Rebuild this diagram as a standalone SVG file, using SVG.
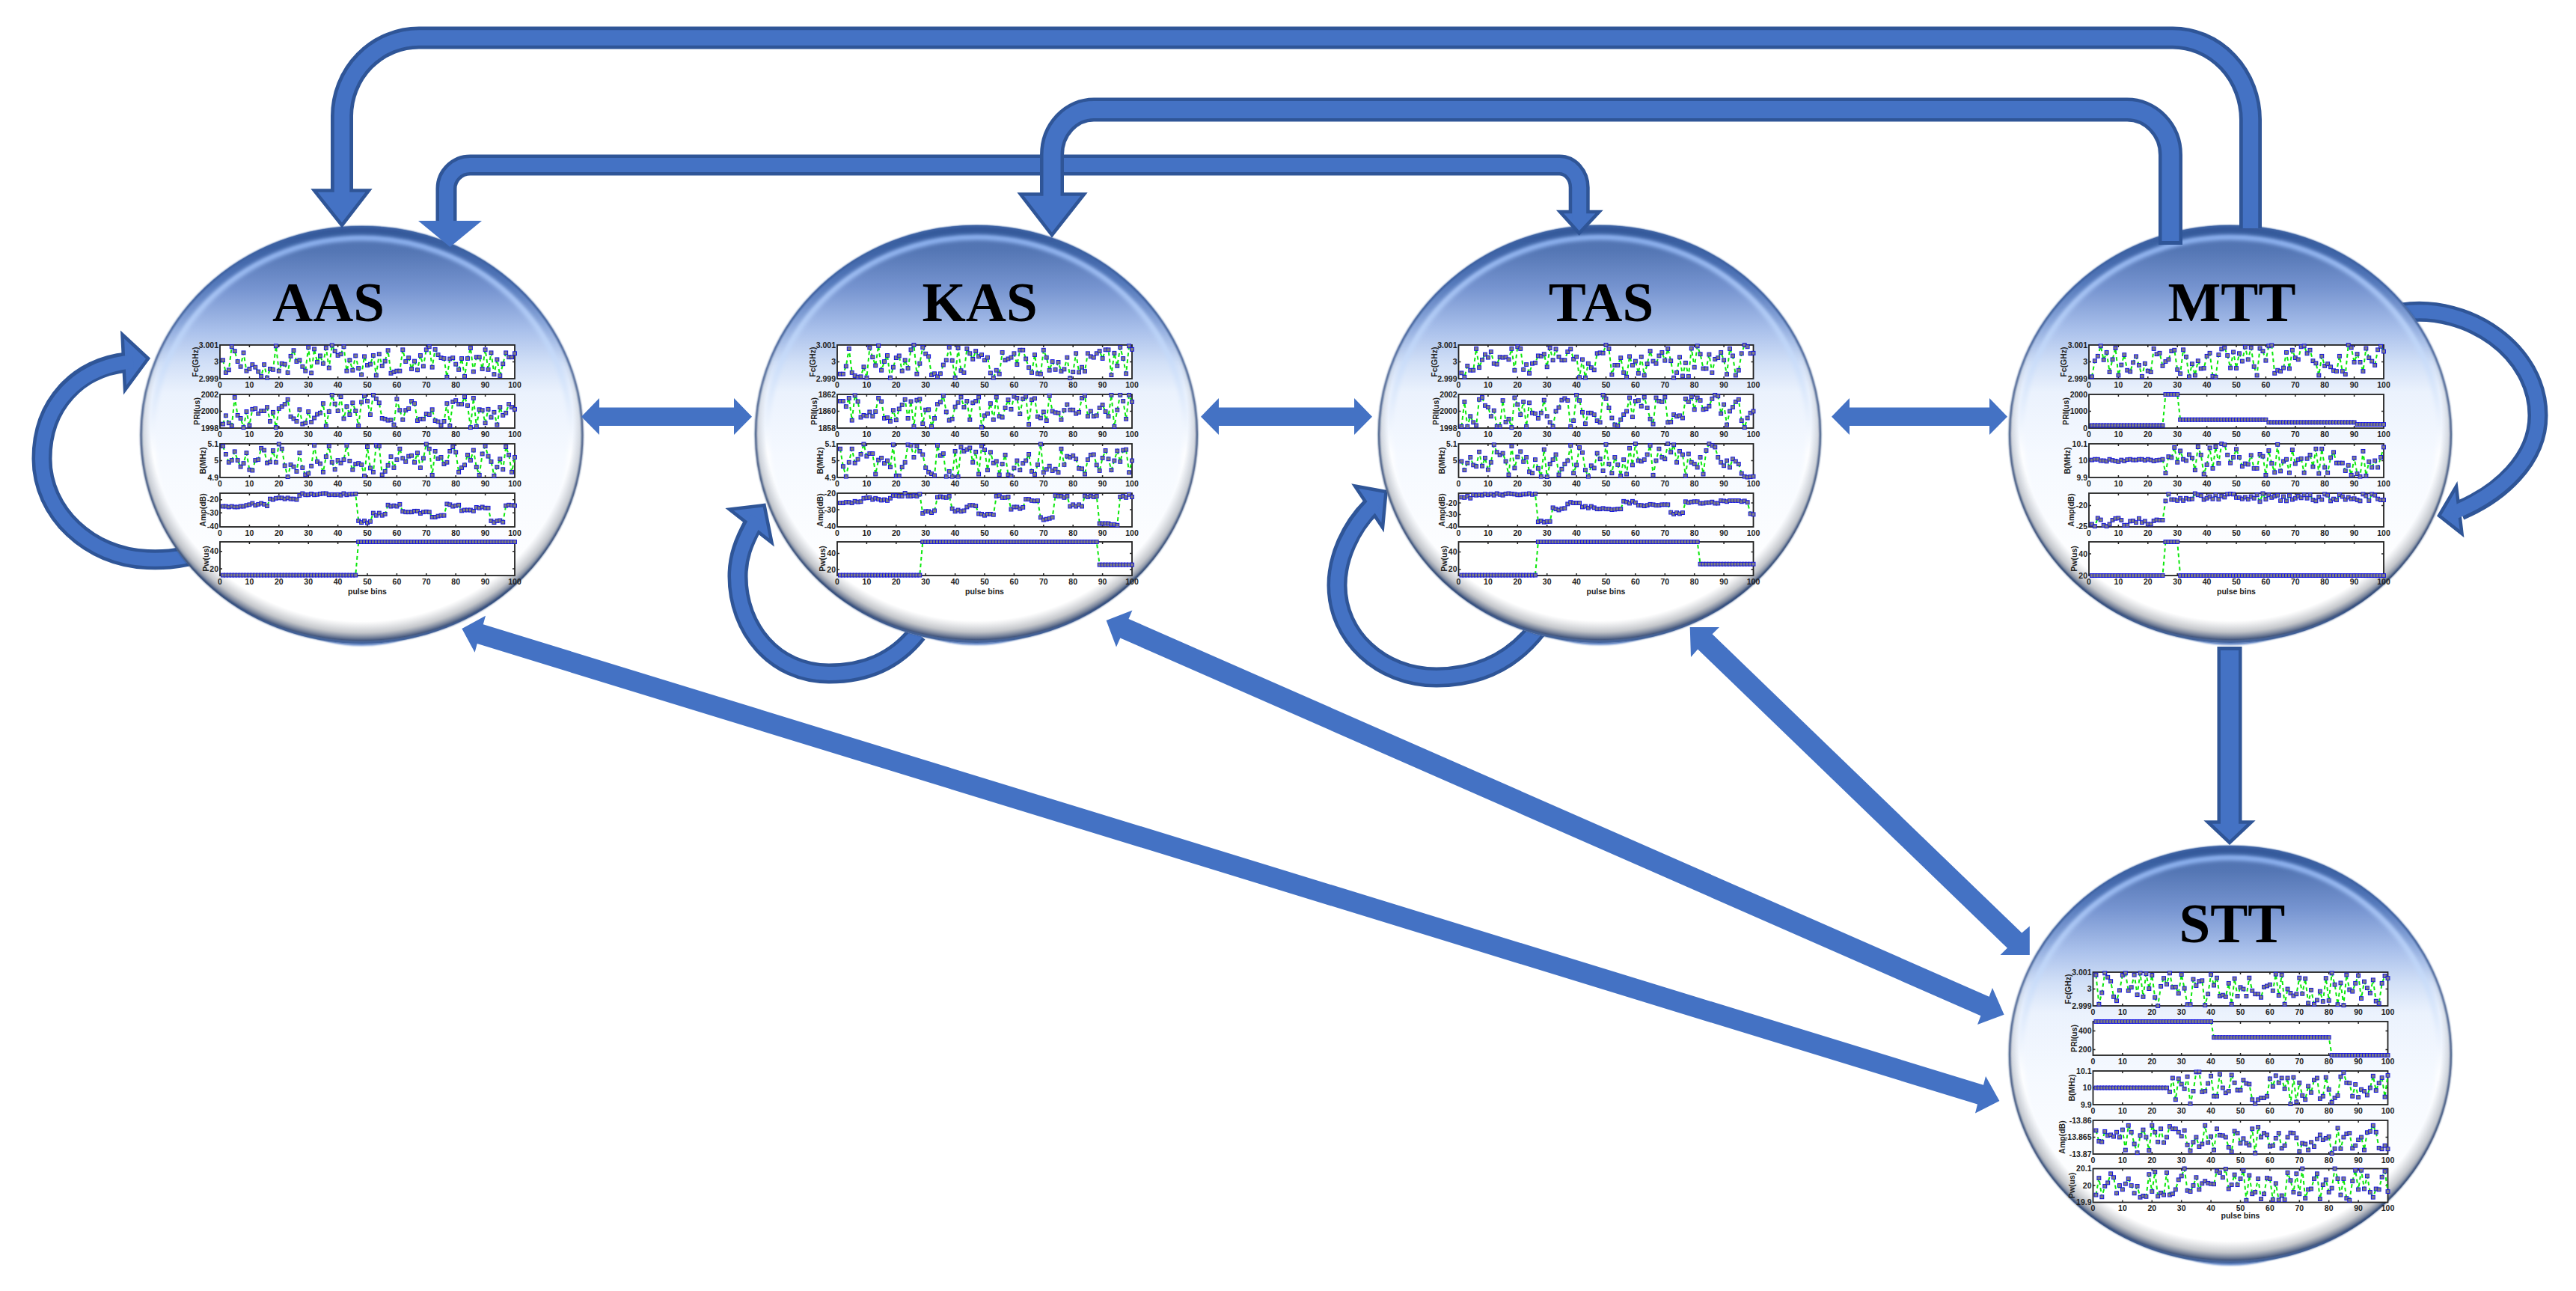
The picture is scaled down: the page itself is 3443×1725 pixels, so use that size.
<svg xmlns="http://www.w3.org/2000/svg" width="3443" height="1725" viewBox="0 0 3443 1725">
<style>
text{font-family:"Liberation Sans",Arial,sans-serif;font-weight:700;font-size:10.5px;fill:#222}
.t{font-family:"Liberation Serif","Times New Roman",serif;font-size:75px;fill:#000;text-anchor:middle}
.x text{text-anchor:middle}
.y{text-anchor:end}
.a{font-size:10.5px;text-anchor:middle}
.p{text-anchor:middle}
.o{fill:none;stroke:#2F5597}
.i{fill:none;stroke:#4472C4}
.h{fill:#4472C4;stroke:#2F5597;stroke-width:4.5}
.f{fill:#4472C4}
.k{fill:none;stroke:#222;stroke-width:1.5}
.s{fill:none;stroke:#0ce80c;stroke-width:2;stroke-dasharray:5 4;vector-effect:non-scaling-stroke;marker-start:url(#m);marker-mid:url(#m);marker-end:url(#m)}
</style>
<defs>
<linearGradient id="gb" x1="0" y1="0" x2="0" y2="1"><stop offset="0" stop-color="#4e70ae"/><stop offset=".06" stop-color="#5476b4"/><stop offset=".15" stop-color="#7694d0"/><stop offset=".25" stop-color="#a9c0eb"/><stop offset=".33" stop-color="#d2e0f7"/><stop offset=".4" stop-color="#ebf2fd"/><stop offset=".55" stop-color="#f5f9ff"/><stop offset=".85" stop-color="#fff"/></linearGradient>
<linearGradient id="gt" x1="0" y1="0" x2="0" y2="1"><stop offset="0" stop-color="#34599a"/><stop offset=".12" stop-color="#4a70b4" stop-opacity=".8"/><stop offset=".33" stop-color="#8aa8dc" stop-opacity="0"/></linearGradient>
<linearGradient id="gh" x1="0" y1="0" x2="0" y2="1"><stop offset="0" stop-color="#8fb4f3"/><stop offset=".3" stop-color="#c5daf9"/><stop offset=".55" stop-color="#fff" stop-opacity=".9"/><stop offset=".7" stop-color="#fff" stop-opacity="0"/></linearGradient>
<linearGradient id="gr" x1="0" y1="0" x2="0" y2="1"><stop offset="0" stop-color="#3c62a4"/><stop offset=".5" stop-color="#243f73"/><stop offset=".85" stop-color="#2c4674"/><stop offset="1" stop-color="#3a5a94"/></linearGradient>
<radialGradient id="gs" cx=".5" cy=".47" r=".53"><stop offset=".9" stop-color="#9a9fa8" stop-opacity="0"/><stop offset=".95" stop-color="#8a8f98" stop-opacity=".5"/><stop offset=".985" stop-color="#3c5078" stop-opacity=".95"/><stop offset="1" stop-color="#5a7db8"/></radialGradient>
<filter id="b1" x="-5%" y="-5%" width="110%" height="110%"><feGaussianBlur stdDeviation="1"/></filter>
<filter id="b2" x="-5%" y="-5%" width="110%" height="110%"><feGaussianBlur stdDeviation="2.5"/></filter>
<g id="orb">
<ellipse cy="3" rx="230" ry="279" fill="#6f92cf" filter="url(#b1)"/>
<ellipse rx="296" ry="279" fill="url(#gb)"/>
<ellipse rx="289" ry="272" fill="none" stroke="url(#gt)" stroke-width="13" filter="url(#b1)"/>
<ellipse rx="280" ry="263" fill="none" stroke="url(#gh)" stroke-width="7" filter="url(#b2)"/>
<ellipse rx="296" ry="279" fill="url(#gs)"/>
<ellipse rx="295" ry="278" fill="none" stroke="url(#gr)" stroke-width="2.2" filter="url(#b1)"/>
</g>
<marker id="m" markerUnits="userSpaceOnUse" markerWidth="1.5" markerHeight="13" refX=".75" refY="6.5" overflow="visible"><rect width="1.5" height="13" fill="#1414e0"/><rect x=".25" y="2.2" width="1" height="8.6" fill="#808080"/></marker>
<g id="fr"><rect width="394" height="45" fill="#fff" stroke="#222" stroke-width="1.8"/><path class="k" d="M39.4 0v3M78.8 0v3M118.2 0v3M157.6 0v3M197 0v3M236.4 0v3M275.8 0v3M315.2 0v3M354.6 0v3M39.4 45v-3M78.8 45v-3M118.2 45v-3M157.6 45v-3M197 45v-3M236.4 45v-3M275.8 45v-3M315.2 45v-3M354.6 45v-3"/></g>
<path id="t3" class="k" d="M0 22.5h3M394 22.5h-3"/>
</defs>
<g id="connectors-loops">
<path class="o" stroke-width="27" d="M265 740C235 748 215 748 197 747.5C120 745 56 685 56 613C56 540 105 490 170 484"/>
<polygon class="h" points="198,479 163.5,447 167,521"/>
<path class="i" stroke-width="18" d="M265 740C235 748 215 748 197 747.5C120 745 56 685 56 613C56 540 105 490 178 483"/>
<path class="o" stroke-width="27" d="M1226 846C1195 885 1155 900 1108 900C1035 900 986 840 986 770C986 745 993 725 1008 698"/>
<polygon class="h" points="1021.5,675 975,680.5 1031.5,725"/>
<path class="i" stroke-width="18" d="M1226 846C1195 885 1155 900 1108 900C1035 900 986 840 986 770C986 745 993 725 1012 692"/>
<path class="o" stroke-width="27" d="M2055 840C2020 885 1975 905 1920 905C1845 905 1787 850 1787 782C1787 745 1805 705 1832 678"/>
<polygon class="h" points="1852.5,657 1811,649.5 1848,705"/>
<path class="i" stroke-width="18" d="M2055 840C2020 885 1975 905 1920 905C1845 905 1787 850 1787 782C1787 745 1805 705 1838 672"/>
<path class="o" stroke-width="27" d="M3210 418C3300 405 3392 470 3392 555C3392 615 3340 660 3288 682"/>
<polygon class="h" points="3260,689 3283,650 3290.5,713"/>
<path class="i" stroke-width="18" d="M3210 418C3300 405 3392 470 3392 555C3392 615 3340 660 3280 685"/>
</g>
<g id="AAS"><use href="#orb" x="483.5" y="581"/><text class="t" x="439" y="429">AAS</text>
<g transform="translate(294,461)"><use href="#fr"/><use href="#t3"/><g class="x" transform="translate(0,56.5)"><text>0</text><text x="39.4">10</text><text x="78.8">20</text><text x="118.2">30</text><text x="157.6">40</text><text x="197">50</text><text x="236.4">60</text><text x="275.8">70</text><text x="315.2">80</text><text x="354.6">90</text><text x="394">100</text></g><text class="y" x="-2" y="3.5">3.001</text><text class="y" x="-2" y="26">3</text><text class="y" x="-2" y="48.5">2.999</text><text class="a" transform="translate(-29,22.5) rotate(-90)">Fc(GHz)</text><polyline class="s" transform="scale(3.94,.45)" points="1,45 2,82 3,74 4,5 5,18 6,49 7,64 8,23 9,77 10,71 11,58 12,66 13,79 14,93 15,58 16,97 17,71 18,73 19,3 20,77 21,55 22,57 23,82 24,33 25,16 26,49 27,45 28,64 29,77 30,7 31,83 32,12 33,51 34,32 35,55 36,9 37,68 38,1 39,18 40,31 41,27 42,5 43,77 44,45 45,75 46,32 47,69 48,88 49,34 50,60 51,57 52,31 53,90 54,27 55,62 56,48 57,16 58,84 59,80 60,77 61,77 62,14 63,49 64,38 65,71 66,48 67,74 68,31 69,63 70,14 71,5 72,66 73,13 74,29 75,38 76,40 77,95 78,41 79,38 80,57 81,73 82,40 83,93 84,40 85,9 86,79 87,36 88,36 89,71 90,14 91,73 92,23 93,87 94,43 95,91 96,56 97,23 98,36 99,36 100,25"/></g>
<g transform="translate(294,527)"><use href="#fr"/><use href="#t3"/><g class="x" transform="translate(0,56.5)"><text>0</text><text x="39.4">10</text><text x="78.8">20</text><text x="118.2">30</text><text x="157.6">40</text><text x="197">50</text><text x="236.4">60</text><text x="275.8">70</text><text x="315.2">80</text><text x="354.6">90</text><text x="394">100</text></g><text class="y" x="-2" y="3.5">2002</text><text class="y" x="-2" y="26">2000</text><text class="y" x="-2" y="48.5">1998</text><text class="a" transform="translate(-27,22.5) rotate(-90)">PRI(us)</text><polyline class="s" transform="scale(3.94,.45)" points="1,88 2,63 3,85 4,93 5,9 6,62 7,71 8,98 9,51 10,92 11,44 12,42 13,57 14,49 15,49 16,38 17,80 18,53 19,98 20,42 21,36 22,29 23,15 24,66 25,72 26,80 27,45 28,88 29,85 30,51 31,82 32,70 33,59 34,55 35,27 36,94 37,51 38,2 39,28 40,49 41,7 42,72 43,36 44,60 45,25 46,49 47,93 48,23 49,5 50,20 51,60 52,2 53,13 54,25 55,71 56,73 57,77 58,76 59,90 60,14 61,47 62,75 63,47 64,42 65,20 66,27 67,78 68,73 69,73 70,58 71,60 72,45 73,78 74,81 75,92 76,80 77,27 78,93 79,22 80,18 81,29 82,29 83,7 84,33 85,98 86,11 87,95 88,45 89,47 90,85 91,44 92,68 93,53 94,90 95,38 96,62 97,55 98,29 99,38 100,44"/></g>
<g transform="translate(294,593)"><use href="#fr"/><use href="#t3"/><g class="x" transform="translate(0,56.5)"><text>0</text><text x="39.4">10</text><text x="78.8">20</text><text x="118.2">30</text><text x="157.6">40</text><text x="197">50</text><text x="236.4">60</text><text x="275.8">70</text><text x="315.2">80</text><text x="354.6">90</text><text x="394">100</text></g><text class="y" x="-2" y="3.5">5.1</text><text class="y" x="-2" y="26">5</text><text class="y" x="-2" y="48.5">4.9</text><text class="a" transform="translate(-19,22.5) rotate(-90)">B(MHz)</text><polyline class="s" transform="scale(3.94,.45)" points="1,7 2,31 3,55 4,49 5,23 6,49 7,68 8,58 9,27 10,77 11,79 12,49 13,47 14,13 15,19 16,57 17,54 18,20 19,55 20,1 21,15 22,65 23,98 24,62 25,68 26,82 27,27 28,71 29,92 30,88 31,66 32,5 33,53 34,59 35,84 36,38 37,7 38,55 39,76 40,49 41,57 42,47 43,5 44,51 45,77 46,60 47,58 48,62 49,95 50,9 51,72 52,84 53,5 54,7 55,92 56,82 57,64 58,38 59,71 60,47 61,15 62,43 63,53 64,37 65,35 66,55 67,27 68,71 69,43 70,1 71,15 72,93 73,22 74,44 75,40 76,60 77,55 78,22 79,9 80,25 81,84 82,71 83,63 84,33 85,49 86,19 87,69 88,93 89,30 90,7 91,37 92,53 93,95 94,69 95,45 96,76 97,9 98,33 99,84 100,40"/></g>
<g transform="translate(294,659)"><use href="#fr"/><path class="k" d="M0 8.7h3M394 8.7h-3M0 26.3h3M394 26.3h-3"/><g class="x" transform="translate(0,56.5)"><text>0</text><text x="39.4">10</text><text x="78.8">20</text><text x="118.2">30</text><text x="157.6">40</text><text x="197">50</text><text x="236.4">60</text><text x="275.8">70</text><text x="315.2">80</text><text x="354.6">90</text><text x="394">100</text></g><text class="y" x="-2" y="12">-20</text><text class="y" x="-2" y="30">-30</text><text class="y" x="-2" y="47.5">-40</text><text class="a" transform="translate(-19,22.5) rotate(-90)">Amp(dB)</text><polyline class="s" transform="scale(3.94,.45)" points="1,39 2,39 3,41 4,39 5,41 6,41 7,39 8,39 9,36 10,34 11,30 12,36 13,33 14,30 15,33 16,38 17,17 18,19 19,15 20,14 21,14 22,17 23,14 24,17 25,17 26,19 27,7 28,1 29,5 30,5 31,2 32,5 33,4 34,2 35,1 36,1 37,5 38,4 39,5 40,4 41,6 42,1 43,5 44,3 45,3 46,2 47,82 48,87 49,82 50,88 51,84 52,59 53,66 54,59 55,66 56,62 57,35 58,39 59,37 60,39 61,33 62,54 63,56 64,56 65,56 66,53 67,53 68,60 69,56 70,55 71,56 72,71 73,71 74,68 75,66 76,66 77,32 78,34 79,39 80,37 81,35 82,52 83,50 84,50 85,50 86,53 87,42 88,44 89,41 90,44 91,44 92,82 93,87 94,82 95,81 96,86 97,37 98,35 99,36 100,37"/></g>
<g transform="translate(294,724)"><use href="#fr"/><path class="k" d="M0 12.7h3M394 12.7h-3M0 36h3M394 36h-3"/><g class="x" transform="translate(0,56.5)"><text>0</text><text x="39.4">10</text><text x="78.8">20</text><text x="118.2">30</text><text x="157.6">40</text><text x="197">50</text><text x="236.4">60</text><text x="275.8">70</text><text x="315.2">80</text><text x="354.6">90</text><text x="394">100</text></g><text class="y" x="-2" y="16">40</text><text class="y" x="-2" y="39.5">20</text><text class="a" transform="translate(-15,22.5) rotate(-90)">Pw(us)</text><text class="p" x="197" y="70">pulse bins</text><polyline class="s" transform="scale(3.94,.45)" points="1,99 2,99 3,99 4,99 5,99 6,99 7,99 8,99 9,99 10,99 11,99 12,99 13,99 14,99 15,99 16,99 17,99 18,99 19,99 20,99 21,99 22,99 23,99 24,99 25,99 26,99 27,99 28,99 29,99 30,99 31,99 32,99 33,99 34,99 35,99 36,99 37,99 38,99 39,99 40,99 41,99 42,99 43,99 44,99 45,99 46,99 47,0 48,0 49,0 50,0 51,0 52,0 53,0 54,0 55,0 56,0 57,0 58,0 59,0 60,0 61,0 62,0 63,0 64,0 65,0 66,0 67,0 68,0 69,0 70,0 71,0 72,0 73,0 74,0 75,0 76,0 77,0 78,0 79,0 80,0 81,0 82,0 83,0 84,0 85,0 86,0 87,0 88,0 89,0 90,0 91,0 92,0 93,0 94,0 95,0 96,0 97,0 98,0 99,0 100,0"/></g></g>
<g id="KAS"><use href="#orb" x="1305" y="580"/><text class="t" x="1309.5" y="429">KAS</text>
<g transform="translate(1119,461)"><use href="#fr"/><use href="#t3"/><g class="x" transform="translate(0,56.5)"><text>0</text><text x="39.4">10</text><text x="78.8">20</text><text x="118.2">30</text><text x="157.6">40</text><text x="197">50</text><text x="236.4">60</text><text x="275.8">70</text><text x="315.2">80</text><text x="354.6">90</text><text x="394">100</text></g><text class="y" x="-2" y="3.5">3.001</text><text class="y" x="-2" y="26">3</text><text class="y" x="-2" y="48.5">2.999</text><text class="a" transform="translate(-29,22.5) rotate(-90)">Fc(GHz)</text><polyline class="s" transform="scale(3.94,.45)" points="1,86 2,86 3,63 4,11 5,82 6,91 7,95 8,94 9,65 10,97 11,8 12,36 13,61 14,2 15,75 16,49 17,31 18,97 19,66 20,38 21,32 22,77 23,45 24,69 25,14 26,0 27,86 28,55 29,7 30,26 31,34 32,89 33,85 34,94 35,85 36,59 37,45 38,7 39,46 40,97 41,9 42,76 43,82 44,11 45,25 46,42 47,18 48,34 49,29 50,45 51,37 52,83 53,97 54,75 55,86 56,22 57,45 58,41 59,37 60,25 61,58 62,15 63,15 64,41 65,67 66,82 67,29 68,85 69,86 70,15 71,37 72,75 73,49 74,73 75,51 76,78 77,72 78,37 79,98 80,80 81,25 82,81 83,66 84,78 85,25 86,34 87,37 88,25 89,18 90,40 91,14 92,14 93,89 94,24 95,62 96,7 97,40 98,85 99,3 100,13"/></g>
<g transform="translate(1119,527)"><use href="#fr"/><use href="#t3"/><g class="x" transform="translate(0,56.5)"><text>0</text><text x="39.4">10</text><text x="78.8">20</text><text x="118.2">30</text><text x="157.6">40</text><text x="197">50</text><text x="236.4">60</text><text x="275.8">70</text><text x="315.2">80</text><text x="354.6">90</text><text x="394">100</text></g><text class="y" x="-2" y="3.5">1862</text><text class="y" x="-2" y="26">1860</text><text class="y" x="-2" y="48.5">1858</text><text class="a" transform="translate(-27,22.5) rotate(-90)">PRI(us)</text><polyline class="s" transform="scale(3.94,.45)" points="1,20 2,20 3,36 4,11 5,77 6,3 7,21 8,68 9,62 10,64 11,52 12,65 13,51 14,11 15,21 16,71 17,69 18,80 19,47 20,76 21,43 22,31 23,15 24,71 25,21 26,95 27,17 28,14 29,87 30,46 31,45 32,95 33,71 34,29 35,23 36,4 37,52 38,77 39,73 40,37 41,24 42,8 43,38 44,20 45,75 46,25 47,20 48,8 49,97 50,63 51,57 52,27 53,75 54,8 55,65 56,68 57,40 58,16 59,44 60,6 61,11 62,58 63,13 64,6 65,89 66,16 67,12 68,66 69,70 70,52 71,78 72,4 73,50 74,54 75,55 76,75 77,47 78,30 79,46 80,46 81,57 82,53 83,11 84,4 85,65 86,50 87,65 88,63 89,40 90,31 91,51 92,65 93,2 94,95 95,46 96,2 97,20 98,73 99,2 100,22"/></g>
<g transform="translate(1119,593)"><use href="#fr"/><use href="#t3"/><g class="x" transform="translate(0,56.5)"><text>0</text><text x="39.4">10</text><text x="78.8">20</text><text x="118.2">30</text><text x="157.6">40</text><text x="197">50</text><text x="236.4">60</text><text x="275.8">70</text><text x="315.2">80</text><text x="354.6">90</text><text x="394">100</text></g><text class="y" x="-2" y="3.5">5.1</text><text class="y" x="-2" y="26">5</text><text class="y" x="-2" y="48.5">4.9</text><text class="a" transform="translate(-19,22.5) rotate(-90)">B(MHz)</text><polyline class="s" transform="scale(3.94,.45)" points="1,15 2,67 3,97 4,55 5,15 6,57 7,46 8,31 9,1 10,37 11,29 12,29 13,90 14,48 15,42 16,58 17,50 18,69 19,3 20,95 21,95 22,69 23,55 24,3 25,5 26,40 27,7 28,22 29,32 30,71 31,84 32,89 33,94 34,5 35,35 36,29 37,97 38,82 39,97 40,22 41,97 42,10 43,22 44,17 45,12 46,55 47,24 48,90 49,7 50,18 51,78 52,25 53,57 54,52 55,92 56,60 57,33 58,92 59,95 60,72 61,50 62,78 63,58 64,50 65,31 66,82 67,91 68,62 69,1 70,85 71,76 72,66 73,80 74,75 75,85 76,15 77,62 78,37 79,40 80,35 81,45 82,73 83,74 84,90 85,47 86,33 87,32 88,63 89,80 90,42 91,20 92,45 93,78 94,50 95,21 96,53 97,19 98,17 99,85 100,50"/></g>
<g transform="translate(1119,659)"><use href="#fr"/><path class="k" d="M0 22h3M394 22h-3"/><g class="x" transform="translate(0,56.5)"><text>0</text><text x="39.4">10</text><text x="78.8">20</text><text x="118.2">30</text><text x="157.6">40</text><text x="197">50</text><text x="236.4">60</text><text x="275.8">70</text><text x="315.2">80</text><text x="354.6">90</text><text x="394">100</text></g><text class="y" x="-2" y="3.5">-20</text><text class="y" x="-2" y="25.5">-30</text><text class="y" x="-2" y="47.5">-40</text><text class="a" transform="translate(-19,22.5) rotate(-90)">Amp(dB)</text><polyline class="s" transform="scale(3.94,.45)" points="1,29 2,29 3,27 4,27 5,29 6,24 7,26 8,25 9,15 10,14 11,13 12,19 13,15 14,18 15,21 16,19 17,22 18,15 19,7 20,7 21,9 22,9 23,0 24,9 25,9 26,7 27,9 28,3 29,60 30,54 31,54 32,58 33,52 34,12 35,10 36,12 37,13 38,9 39,46 40,54 41,50 42,54 43,52 44,41 45,36 46,36 47,38 48,61 49,62 50,66 51,62 52,62 53,64 54,9 55,7 56,13 57,13 58,11 59,48 60,41 61,41 62,46 63,42 64,18 65,18 66,22 67,23 68,22 69,72 70,79 71,77 72,75 73,72 74,7 75,9 76,9 77,13 78,9 79,39 80,34 81,39 82,34 83,39 84,8 85,11 86,8 87,11 88,9 89,90 90,90 91,90 92,90 93,93 94,93 95,95 96,11 97,9 98,13 99,4 100,11"/></g>
<g transform="translate(1119,724)"><use href="#fr"/><path class="k" d="M0 15.5h3M394 15.5h-3M0 37h3M394 37h-3"/><g class="x" transform="translate(0,56.5)"><text>0</text><text x="39.4">10</text><text x="78.8">20</text><text x="118.2">30</text><text x="157.6">40</text><text x="197">50</text><text x="236.4">60</text><text x="275.8">70</text><text x="315.2">80</text><text x="354.6">90</text><text x="394">100</text></g><text class="y" x="-2" y="19">40</text><text class="y" x="-2" y="40.5">20</text><text class="a" transform="translate(-16,22.5) rotate(-90)">Pw(us)</text><text class="p" x="197" y="70">pulse bins</text><polyline class="s" transform="scale(3.94,.45)" points="1,99 2,99 3,99 4,99 5,99 6,99 7,99 8,99 9,99 10,99 11,99 12,99 13,99 14,99 15,99 16,99 17,99 18,99 19,99 20,99 21,99 22,99 23,99 24,99 25,99 26,99 27,99 28,99 29,0 30,0 31,0 32,0 33,0 34,0 35,0 36,0 37,0 38,0 39,0 40,0 41,0 42,0 43,0 44,0 45,0 46,0 47,0 48,0 49,0 50,0 51,0 52,0 53,0 54,0 55,0 56,0 57,0 58,0 59,0 60,0 61,0 62,0 63,0 64,0 65,0 66,0 67,0 68,0 69,0 70,0 71,0 72,0 73,0 74,0 75,0 76,0 77,0 78,0 79,0 80,0 81,0 82,0 83,0 84,0 85,0 86,0 87,0 88,0 89,68 90,68 91,68 92,68 93,68 94,68 95,68 96,68 97,68 98,68 99,68 100,68"/></g></g>
<g id="TAS"><use href="#orb" x="2138" y="580"/><text class="t" x="2140" y="429">TAS</text>
<g transform="translate(1949.5,461)"><use href="#fr"/><use href="#t3"/><g class="x" transform="translate(0,56.5)"><text>0</text><text x="39.4">10</text><text x="78.8">20</text><text x="118.2">30</text><text x="157.6">40</text><text x="197">50</text><text x="236.4">60</text><text x="275.8">70</text><text x="315.2">80</text><text x="354.6">90</text><text x="394">100</text></g><text class="y" x="-2" y="3.5">3.001</text><text class="y" x="-2" y="26">3</text><text class="y" x="-2" y="48.5">2.999</text><text class="a" transform="translate(-29,22.5) rotate(-90)">Fc(GHz)</text><polyline class="s" transform="scale(3.94,.45)" points="1,83 2,95 3,62 4,75 5,75 6,11 7,67 8,44 9,28 10,37 11,20 12,55 13,57 14,36 15,37 16,36 17,43 18,11 19,75 20,5 21,11 22,73 23,58 24,84 25,55 26,53 27,32 28,33 29,27 30,65 31,9 32,45 33,12 34,35 35,45 36,45 37,20 38,12 39,42 40,35 41,96 42,43 43,97 44,55 45,67 46,74 47,25 48,23 49,24 50,0 51,11 52,88 53,60 54,60 55,38 56,82 57,95 58,34 59,60 60,48 61,84 62,35 63,90 64,56 65,18 66,48 67,55 68,32 69,22 70,46 71,11 72,47 73,97 74,82 75,36 76,92 77,53 78,93 79,10 80,66 81,3 82,27 83,70 84,70 85,28 86,82 87,42 88,38 89,22 90,45 91,87 92,11 93,32 94,90 95,75 96,25 97,0 98,5 99,25 100,24"/></g>
<g transform="translate(1949.5,527)"><use href="#fr"/><use href="#t3"/><g class="x" transform="translate(0,56.5)"><text>0</text><text x="39.4">10</text><text x="78.8">20</text><text x="118.2">30</text><text x="157.6">40</text><text x="197">50</text><text x="236.4">60</text><text x="275.8">70</text><text x="315.2">80</text><text x="354.6">90</text><text x="394">100</text></g><text class="y" x="-2" y="3.5">2002</text><text class="y" x="-2" y="26">2000</text><text class="y" x="-2" y="48.5">1998</text><text class="a" transform="translate(-27,22.5) rotate(-90)">PRI(us)</text><polyline class="s" transform="scale(3.94,.45)" points="1,95 2,22 3,95 4,65 5,83 6,92 7,15 8,9 9,33 10,38 11,65 12,48 13,95 14,95 15,18 16,82 17,73 18,98 19,10 20,30 21,60 22,22 23,95 24,25 25,55 26,57 27,71 28,55 29,17 30,65 31,83 32,95 33,50 34,39 35,17 36,12 37,18 38,95 39,78 40,2 41,18 42,53 43,87 44,55 45,55 46,60 47,78 48,83 49,2 50,13 51,40 52,70 53,90 54,93 55,75 56,60 57,50 58,10 59,67 60,20 61,18 62,35 63,8 64,40 65,73 66,88 67,10 68,20 69,22 70,8 71,83 72,82 73,60 74,65 75,63 76,70 77,13 78,22 79,7 80,45 81,10 82,18 83,45 84,43 85,35 86,13 87,2 88,5 89,57 90,30 91,90 92,50 93,38 94,22 95,15 96,78 97,98 98,70 99,55 100,50"/></g>
<g transform="translate(1949.5,593)"><use href="#fr"/><path class="k" d="M0 22.5h3M394 22.5h-3"/><g class="x" transform="translate(0,56.5)"><text>0</text><text x="39.4">10</text><text x="78.8">20</text><text x="118.2">30</text><text x="157.6">40</text><text x="197">50</text><text x="236.4">60</text><text x="275.8">70</text><text x="315.2">80</text><text x="354.6">90</text><text x="394">100</text></g><text class="y" x="-2" y="3.5">5.1</text><text class="y" x="-2" y="26">5</text><text class="a" transform="translate(-19,22.5) rotate(-90)">B(MHz)</text><polyline class="s" transform="scale(3.94,.45)" points="1,52 2,78 3,57 4,40 5,63 6,67 7,24 8,66 9,42 10,77 11,55 12,3 13,25 14,33 15,28 16,52 17,92 18,7 19,72 20,39 21,23 22,53 23,40 24,83 25,87 26,47 27,73 28,97 29,17 30,98 31,60 32,47 33,32 34,92 35,75 36,60 37,50 38,5 39,87 40,63 41,11 42,26 43,78 44,97 45,65 46,72 47,28 48,45 49,80 50,2 51,60 52,87 53,40 54,62 55,95 56,47 57,90 58,13 59,63 60,0 61,50 62,52 63,47 64,32 65,5 66,93 67,50 68,15 69,40 70,45 71,0 72,25 73,3 74,55 75,22 76,32 77,95 78,30 79,55 80,60 81,70 82,40 83,90 84,20 85,0 86,5 87,10 88,40 89,55 90,65 91,50 92,70 93,45 94,52 95,60 96,88 97,97 98,99 99,98 100,97"/></g>
<g transform="translate(1949.5,659)"><use href="#fr"/><path class="k" d="M0 13h3M394 13h-3M0 28.5h3M394 28.5h-3"/><g class="x" transform="translate(0,56.5)"><text>0</text><text x="39.4">10</text><text x="78.8">20</text><text x="118.2">30</text><text x="157.6">40</text><text x="197">50</text><text x="236.4">60</text><text x="275.8">70</text><text x="315.2">80</text><text x="354.6">90</text><text x="394">100</text></g><text class="y" x="-2" y="16.5">-20</text><text class="y" x="-2" y="32">-30</text><text class="y" x="-2" y="47.5">-40</text><text class="a" transform="translate(-19,22.5) rotate(-90)">Amp(dB)</text><polyline class="s" transform="scale(3.94,.45)" points="1,12 2,13 3,9 4,15 5,5 6,6 7,5 8,6 9,3 10,5 11,3 12,6 13,1 14,4 15,6 16,2 17,1 18,2 19,3 20,5 21,5 22,3 23,3 24,1 25,4 26,2 27,85 28,82 29,86 30,84 31,84 32,43 33,47 34,50 35,46 36,45 37,32 38,27 39,29 40,29 41,29 42,41 43,39 44,44 45,39 46,43 47,47 48,47 49,45 50,47 51,47 52,49 53,48 54,47 55,47 56,24 57,26 58,30 59,24 60,28 61,36 62,36 63,38 64,36 65,33 66,34 67,36 68,36 69,34 70,34 71,34 72,57 73,62 74,58 75,61 76,58 77,25 78,28 79,26 80,25 81,25 82,30 83,30 84,28 85,28 86,26 87,30 88,30 89,22 90,23 91,25 92,22 93,22 94,22 95,22 96,25 97,23 98,27 99,61 100,63"/></g>
<g transform="translate(1949.5,724)"><use href="#fr"/><path class="k" d="M0 13.5h3M394 13.5h-3M0 36.7h3M394 36.7h-3"/><g class="x" transform="translate(0,56.5)"><text>0</text><text x="39.4">10</text><text x="78.8">20</text><text x="118.2">30</text><text x="157.6">40</text><text x="197">50</text><text x="236.4">60</text><text x="275.8">70</text><text x="315.2">80</text><text x="354.6">90</text><text x="394">100</text></g><text class="y" x="-2" y="17">40</text><text class="y" x="-2" y="40">20</text><text class="a" transform="translate(-16,22.5) rotate(-90)">Pw(us)</text><text class="p" x="197" y="70">pulse bins</text><polyline class="s" transform="scale(3.94,.45)" points="1,99 2,99 3,99 4,99 5,99 6,99 7,99 8,99 9,99 10,99 11,99 12,99 13,99 14,99 15,99 16,99 17,99 18,99 19,99 20,99 21,99 22,99 23,99 24,99 25,99 26,99 27,0 28,0 29,0 30,0 31,0 32,0 33,0 34,0 35,0 36,0 37,0 38,0 39,0 40,0 41,0 42,0 43,0 44,0 45,0 46,0 47,0 48,0 49,0 50,0 51,0 52,0 53,0 54,0 55,0 56,0 57,0 58,0 59,0 60,0 61,0 62,0 63,0 64,0 65,0 66,0 67,0 68,0 69,0 70,0 71,0 72,0 73,0 74,0 75,0 76,0 77,0 78,0 79,0 80,0 81,0 82,66 83,66 84,66 85,66 86,66 87,66 88,66 89,66 90,66 91,66 92,66 93,66 94,66 95,66 96,66 97,66 98,66 99,66 100,66"/></g></g>
<g id="MTT"><use href="#orb" x="2981" y="580"/><text class="t" x="2983" y="429">MTT</text>
<g transform="translate(2792,461)"><use href="#fr"/><use href="#t3"/><g class="x" transform="translate(0,56.5)"><text>0</text><text x="39.4">10</text><text x="78.8">20</text><text x="118.2">30</text><text x="157.6">40</text><text x="197">50</text><text x="236.4">60</text><text x="275.8">70</text><text x="315.2">80</text><text x="354.6">90</text><text x="394">100</text></g><text class="y" x="-2" y="3.5">3.001</text><text class="y" x="-2" y="26">3</text><text class="y" x="-2" y="48.5">2.999</text><text class="a" transform="translate(-30,22.5) rotate(-90)">Fc(GHz)</text><polyline class="s" transform="scale(3.94,.45)" points="1,94 2,47 3,33 4,3 5,44 6,22 7,80 8,43 9,9 10,90 11,59 12,29 13,75 14,79 15,52 16,34 17,60 18,93 19,55 20,77 21,80 22,11 23,27 24,24 25,62 26,49 27,43 28,18 29,15 30,73 31,85 32,14 33,35 34,94 35,56 36,90 37,47 38,70 39,69 40,33 41,24 42,93 43,95 44,29 45,12 46,8 47,31 48,68 49,21 50,69 51,25 52,48 53,6 54,43 55,8 56,64 57,90 58,10 59,18 60,46 61,3 62,1 63,84 64,75 65,78 66,68 67,22 68,70 69,15 70,38 71,43 72,5 73,3 74,25 75,15 76,47 77,54 78,90 79,33 80,62 81,56 82,65 83,76 84,78 85,33 86,78 87,87 88,0 89,8 90,51 91,27 92,51 93,78 94,10 95,38 96,48 97,60 98,14 99,4 100,19"/></g>
<g transform="translate(2792,527)"><use href="#fr"/><use href="#t3"/><g class="x" transform="translate(0,56.5)"><text>0</text><text x="39.4">10</text><text x="78.8">20</text><text x="118.2">30</text><text x="157.6">40</text><text x="197">50</text><text x="236.4">60</text><text x="275.8">70</text><text x="315.2">80</text><text x="354.6">90</text><text x="394">100</text></g><text class="y" x="-2" y="3.5">2000</text><text class="y" x="-2" y="26">1000</text><text class="y" x="-2" y="48.5">0</text><text class="a" transform="translate(-27,22.5) rotate(-90)">PRI(us)</text><polyline class="s" transform="scale(3.94,.45)" points="1,92 2,92 3,92 4,92 5,92 6,92 7,92 8,92 9,92 10,92 11,92 12,92 13,92 14,92 15,92 16,92 17,92 18,92 19,92 20,92 21,92 22,92 23,92 24,92 25,92 26,0 27,0 28,0 29,0 30,0 31,75 32,75 33,75 34,75 35,75 36,75 37,75 38,75 39,75 40,75 41,75 42,75 43,75 44,75 45,75 46,75 47,75 48,75 49,75 50,75 51,75 52,75 53,75 54,75 55,75 56,75 57,75 58,75 59,75 60,75 61,83 62,83 63,83 64,83 65,83 66,83 67,83 68,83 69,83 70,83 71,83 72,83 73,83 74,83 75,83 76,83 77,83 78,83 79,83 80,83 81,83 82,83 83,83 84,83 85,83 86,83 87,83 88,83 89,83 90,83 91,89 92,89 93,89 94,89 95,89 96,89 97,89 98,89 99,89 100,89"/></g>
<g transform="translate(2792,593)"><use href="#fr"/><use href="#t3"/><g class="x" transform="translate(0,56.5)"><text>0</text><text x="39.4">10</text><text x="78.8">20</text><text x="118.2">30</text><text x="157.6">40</text><text x="197">50</text><text x="236.4">60</text><text x="275.8">70</text><text x="315.2">80</text><text x="354.6">90</text><text x="394">100</text></g><text class="y" x="-2" y="3.5">10.1</text><text class="y" x="-2" y="26">10</text><text class="y" x="-2" y="48.5">9.9</text><text class="a" transform="translate(-25,22.5) rotate(-90)">B(MHz)</text><polyline class="s" transform="scale(3.94,.45)" points="1,48 2,46 3,46 4,50 5,50 6,52 7,46 8,49 9,51 10,53 11,48 12,51 13,47 14,46 15,48 16,48 17,46 18,46 19,49 20,46 21,48 22,51 23,49 24,48 25,46 26,87 27,38 28,41 29,11 30,55 31,21 32,46 33,50 34,32 35,42 36,78 37,9 38,33 39,90 40,62 41,12 42,73 43,9 44,58 45,0 46,3 47,33 48,57 49,40 50,16 51,40 52,67 53,59 54,61 55,34 56,73 57,73 58,31 59,37 60,93 61,20 62,58 63,85 64,2 65,81 66,52 67,46 68,86 69,18 70,59 71,47 72,44 73,86 74,44 75,33 76,68 77,15 78,88 79,15 80,70 81,86 82,41 83,25 84,57 85,57 86,57 87,80 88,64 89,93 90,42 91,89 92,97 93,22 94,95 95,53 96,70 97,50 98,70 99,40 100,10"/></g>
<g transform="translate(2792,659)"><use href="#fr"/><path class="k" d="M0 16.5h3M394 16.5h-3"/><g class="x" transform="translate(0,56.5)"><text>0</text><text x="39.4">10</text><text x="78.8">20</text><text x="118.2">30</text><text x="157.6">40</text><text x="197">50</text><text x="236.4">60</text><text x="275.8">70</text><text x="315.2">80</text><text x="354.6">90</text><text x="394">100</text></g><text class="y" x="-2" y="20">-20</text><text class="y" x="-2" y="47.5">-25</text><text class="a" transform="translate(-20,22.5) rotate(-90)">Amp(dB)</text><polyline class="s" transform="scale(3.94,.45)" points="1,92 2,98 3,74 4,79 5,95 6,98 7,92 8,80 9,75 10,74 11,80 12,95 13,95 14,83 15,82 16,87 17,75 18,87 19,83 20,92 21,92 22,82 23,79 24,80 25,80 26,23 27,3 28,19 29,19 30,22 31,15 32,22 33,15 34,18 35,17 36,1 37,5 38,7 39,19 40,15 41,10 42,17 43,5 44,18 45,8 46,12 47,3 48,2 49,3 50,13 51,13 52,17 53,12 54,18 55,10 56,15 57,5 58,25 59,1 60,18 61,5 62,13 63,9 64,6 65,22 66,10 67,23 68,7 69,19 70,15 71,9 72,14 73,5 74,15 75,5 76,20 77,23 78,11 79,19 80,3 81,6 82,23 83,17 84,20 85,5 86,10 87,19 88,12 89,17 90,16 91,20 92,23 93,3 94,8 95,22 96,3 97,6 98,17 99,20 100,20"/></g>
<g transform="translate(2792,724)"><use href="#fr"/><path class="k" d="M0 16h3M394 16h-3"/><g class="x" transform="translate(0,56.5)"><text>0</text><text x="39.4">10</text><text x="78.8">20</text><text x="118.2">30</text><text x="157.6">40</text><text x="197">50</text><text x="236.4">60</text><text x="275.8">70</text><text x="315.2">80</text><text x="354.6">90</text><text x="394">100</text></g><text class="y" x="-2" y="19.5">40</text><text class="y" x="-2" y="48.5">20</text><text class="a" transform="translate(-16,22.5) rotate(-90)">Pw(us)</text><text class="p" x="197" y="70">pulse bins</text><polyline class="s" transform="scale(3.94,.45)" points="1,100 2,100 3,100 4,100 5,100 6,100 7,100 8,100 9,100 10,100 11,100 12,100 13,100 14,100 15,100 16,100 17,100 18,100 19,100 20,100 21,100 22,100 23,100 24,100 25,100 26,0 27,0 28,0 29,0 30,0 31,100 32,100 33,100 34,100 35,100 36,100 37,100 38,100 39,100 40,100 41,100 42,100 43,100 44,100 45,100 46,100 47,100 48,100 49,100 50,100 51,100 52,100 53,100 54,100 55,100 56,100 57,100 58,100 59,100 60,100 61,100 62,100 63,100 64,100 65,100 66,100 67,100 68,100 69,100 70,100 71,100 72,100 73,100 74,100 75,100 76,100 77,100 78,100 79,100 80,100 81,100 82,100 83,100 84,100 85,100 86,100 87,100 88,100 89,100 90,100 91,100 92,100 93,100 94,100 95,100 96,100 97,100 98,100 99,100 100,100"/></g></g>
<g id="STT"><use href="#orb" x="2981" y="1409"/><text class="t" x="2983.5" y="1258.5">STT</text>
<g transform="translate(2797.5,1299)"><use href="#fr"/><use href="#t3"/><g class="x" transform="translate(0,56.5)"><text>0</text><text x="39.4">10</text><text x="78.8">20</text><text x="118.2">30</text><text x="157.6">40</text><text x="197">50</text><text x="236.4">60</text><text x="275.8">70</text><text x="315.2">80</text><text x="354.6">90</text><text x="394">100</text></g><text class="y" x="-2" y="3.5">3.001</text><text class="y" x="-2" y="26">3</text><text class="y" x="-2" y="48.5">2.999</text><text class="a" transform="translate(-30,22.5) rotate(-90)">Fc(GHz)</text><polyline class="s" transform="scale(3.94,.45)" points="1,8 2,95 3,61 4,3 5,15 6,27 7,73 8,85 9,54 10,9 11,3 12,55 13,45 14,8 15,67 16,3 17,73 18,5 19,49 20,9 21,75 22,100 23,42 24,18 25,36 26,3 27,45 28,44 29,63 30,7 31,48 32,96 33,96 34,21 35,40 36,27 37,25 38,98 39,65 40,7 41,39 42,17 43,71 44,68 45,73 46,33 47,95 48,19 49,71 50,45 51,50 52,71 53,17 54,55 55,65 56,65 57,75 58,44 59,41 60,37 61,55 62,6 63,69 64,8 65,95 66,50 67,62 68,70 69,65 70,17 71,64 72,19 73,92 74,53 75,95 76,83 77,57 78,87 79,18 80,84 81,3 82,37 83,96 84,32 85,98 86,8 87,52 88,57 89,33 90,10 91,78 92,28 93,47 94,62 95,23 96,86 97,93 98,33 99,11 100,18"/></g>
<g transform="translate(2797.5,1365)"><use href="#fr"/><path class="k" d="M0 12.6h3M394 12.6h-3M0 37.5h3M394 37.5h-3"/><g class="x" transform="translate(0,56.5)"><text>0</text><text x="39.4">10</text><text x="78.8">20</text><text x="118.2">30</text><text x="157.6">40</text><text x="197">50</text><text x="236.4">60</text><text x="275.8">70</text><text x="315.2">80</text><text x="354.6">90</text><text x="394">100</text></g><text class="y" x="-2" y="16">400</text><text class="y" x="-2" y="41">200</text><text class="a" transform="translate(-22,22.5) rotate(-90)">PRI(us)</text><polyline class="s" transform="scale(3.94,.45)" points="1,0 2,0 3,0 4,0 5,0 6,0 7,0 8,0 9,0 10,0 11,0 12,0 13,0 14,0 15,0 16,0 17,0 18,0 19,0 20,0 21,0 22,0 23,0 24,0 25,0 26,0 27,0 28,0 29,0 30,0 31,0 32,0 33,0 34,0 35,0 36,0 37,0 38,0 39,0 40,0 41,47 42,47 43,47 44,47 45,47 46,47 47,47 48,47 49,47 50,47 51,47 52,47 53,47 54,47 55,47 56,47 57,47 58,47 59,47 60,47 61,47 62,47 63,47 64,47 65,47 66,47 67,47 68,47 69,47 70,47 71,47 72,47 73,47 74,47 75,47 76,47 77,47 78,47 79,47 80,47 81,100 82,100 83,100 84,100 85,100 86,100 87,100 88,100 89,100 90,100 91,100 92,100 93,100 94,100 95,100 96,100 97,100 98,100 99,100 100,100"/></g>
<g transform="translate(2797.5,1431)"><use href="#fr"/><use href="#t3"/><g class="x" transform="translate(0,56.5)"><text>0</text><text x="39.4">10</text><text x="78.8">20</text><text x="118.2">30</text><text x="157.6">40</text><text x="197">50</text><text x="236.4">60</text><text x="275.8">70</text><text x="315.2">80</text><text x="354.6">90</text><text x="394">100</text></g><text class="y" x="-2" y="3.5">10.1</text><text class="y" x="-2" y="26">10</text><text class="y" x="-2" y="48.5">9.9</text><text class="a" transform="translate(-25,22.5) rotate(-90)">B(MHz)</text><polyline class="s" transform="scale(3.94,.45)" points="1,50 2,50 3,50 4,50 5,50 6,50 7,50 8,50 9,50 10,50 11,50 12,50 13,50 14,50 15,50 16,50 17,50 18,50 19,50 20,50 21,50 22,50 23,50 24,50 25,50 26,62 27,21 28,85 29,23 30,39 31,53 32,17 33,97 34,60 35,3 36,3 37,62 38,60 39,37 40,15 41,75 42,75 43,10 44,50 45,65 46,60 47,12 48,35 49,57 50,57 51,27 52,37 53,39 54,85 55,97 56,85 57,80 58,80 59,75 60,23 61,46 62,14 63,35 64,21 65,53 66,21 67,98 68,19 69,92 70,35 71,73 72,85 73,45 74,64 75,27 76,21 77,82 78,75 79,19 80,55 81,93 82,80 83,73 84,17 85,5 86,35 87,36 88,75 89,40 90,78 91,55 92,60 93,72 94,50 95,15 96,58 97,36 98,20 99,77 100,13"/></g>
<g transform="translate(2797.5,1497)"><use href="#fr"/><use href="#t3"/><g class="x" transform="translate(0,56.5)"><text>0</text><text x="39.4">10</text><text x="78.8">20</text><text x="118.2">30</text><text x="157.6">40</text><text x="197">50</text><text x="236.4">60</text><text x="275.8">70</text><text x="315.2">80</text><text x="354.6">90</text><text x="394">100</text></g><text class="y" x="-2" y="3.5">-13.86</text><text class="y" x="-2" y="26">-13.865</text><text class="y" x="-2" y="48.5">-13.87</text><text class="a" transform="translate(-38,22.5) rotate(-90)">Amp(dB)</text><polyline class="s" transform="scale(3.94,.45)" points="1,30 2,62 3,64 4,33 5,45 6,43 7,48 8,35 9,50 10,28 11,88 12,15 13,35 14,70 15,96 16,45 17,28 18,50 19,89 20,15 21,35 22,64 23,25 24,66 25,50 26,18 27,25 28,25 29,35 30,47 31,30 32,73 33,90 34,65 35,50 36,78 37,70 38,15 39,66 40,48 41,88 42,25 43,44 44,45 45,50 46,80 47,93 48,32 49,38 50,68 51,54 52,68 53,74 54,25 55,97 56,20 57,50 58,38 59,43 60,77 61,75 62,53 63,38 64,83 65,75 66,50 67,37 68,38 69,52 70,92 71,68 72,70 73,88 74,65 75,78 76,55 77,43 78,58 79,53 80,48 81,98 82,84 83,23 84,84 85,50 86,40 87,38 88,83 89,75 90,58 91,50 92,88 93,36 94,33 95,15 96,35 97,82 98,85 99,75 100,85"/></g>
<g transform="translate(2797.5,1561.5)"><use href="#fr"/><use href="#t3"/><g class="x" transform="translate(0,56.5)"><text>0</text><text x="39.4">10</text><text x="78.8">20</text><text x="118.2">30</text><text x="157.6">40</text><text x="197">50</text><text x="236.4">60</text><text x="275.8">70</text><text x="315.2">80</text><text x="354.6">90</text><text x="394">100</text></g><text class="y" x="-2" y="3.5">20.1</text><text class="y" x="-2" y="26">20</text><text class="y" x="-2" y="48.5">19.9</text><text class="a" transform="translate(-25,22.5) rotate(-90)">Pw(us)</text><text class="p" x="197" y="66.5">pulse bins</text><polyline class="s" transform="scale(3.94,.45)" points="1,78 2,28 3,84 4,52 5,42 6,15 7,26 8,73 9,50 10,62 11,45 12,30 13,50 14,73 15,52 16,85 17,81 18,83 19,17 20,68 21,10 22,82 23,72 24,78 25,12 26,78 27,75 28,62 29,33 30,22 31,0 32,65 33,68 34,50 35,26 36,62 37,44 38,37 39,43 40,45 41,46 42,7 43,12 44,26 45,1 46,60 47,48 48,18 49,48 50,30 51,6 52,94 53,20 54,75 55,70 56,30 57,90 58,75 59,28 60,30 61,92 62,44 63,93 64,80 65,92 66,12 67,35 68,70 69,15 70,75 71,0 72,88 73,62 74,60 75,30 76,15 77,90 78,48 79,33 80,70 81,58 82,0 83,30 84,78 85,30 86,88 87,94 88,37 89,5 90,62 91,5 92,60 93,22 94,70 95,85 96,60 97,62 98,25 99,8 100,68"/></g></g>
<g id="connectors">
<path class="o" stroke-width="28" d="M596.5 295V252A32 31.5 0 0 1 628.5 220.5H2084A26.5 30 0 0 1 2110.7 250.5V285"/>
<polygon class="h" points="2085,283 2137.5,283 2110.7,311.5"/>
<path class="i" stroke-width="19" d="M596.5 297V252A32 31.5 0 0 1 628.5 220.5H2084A26.5 30 0 0 1 2110.7 250.5V292"/>
<polygon class="f" points="559,295 644,295 601.5,330"/>
<path class="o" stroke-width="30" d="M3008 305V160A104 110 0 0 0 2904 50.5H560A103 105 0 0 0 457 155V258"/>
<polygon class="h" points="420,254.5 493,254.5 457,301"/>
<path class="i" stroke-width="20.5" d="M3008 305V160A104 110 0 0 0 2904 50.5H560A103 105 0 0 0 457 155V268"/>
<path class="o" stroke-width="32" d="M2901 327V207A58 60.5 0 0 0 2843 146.5H1462A56 60.5 0 0 0 1406 207V262"/>
<polygon class="h" points="1364,259.5 1449,259.5 1406,314"/>
<path class="i" stroke-width="23" d="M2901 322V207A58 60.5 0 0 0 2843 146.5H1462A56 60.5 0 0 0 1406 207V275"/>
<path class="o" stroke-width="33" d="M2980 864V1100"/>
<polygon class="h" points="2951,1098.5 3009,1098.5 2980,1126"/>
<path class="i" stroke-width="24" d="M2980 869V1108"/>
<polygon class="f" points="777,556.7 801,532 801,544.5 981,544.5 981,532 1005,556.7 981,581 981,569 801,569 801,581"/>
<polygon class="f" points="1605,556.7 1629,532 1629,544.5 1810,544.5 1810,532 1834,556.7 1810,581 1810,569 1629,569 1629,581"/>
<polygon class="f" points="2448,556.7 2472,532 2472,544.5 2659,544.5 2659,532 2683,556.7 2659,581 2659,569 2472,569 2472,581"/>
<polygon class="f" points="2258.7,838 2298,838 2288.6,847.3 2702.3,1246.5 2712.8,1237.4 2712.8,1276 2673.5,1276 2682.9,1266.7 2269.2,867.5 2260,878"/>
<polygon class="f" points="1478.6,829 1513.4,815.5 1508.5,826.9 2658.6,1331.7 2663,1320 2678.6,1355.7 2643,1369 2647.4,1357.3 1497.3,852.5 1492,864.5"/>
<polygon class="f" points="617.4,840 649,822.7 645.8,834.3 2651,1449.8 2654,1438 2672.4,1470.9 2640,1487.4 2643,1475.6 637.8,860.1 634.6,871.7"/>
</g>
</svg>
